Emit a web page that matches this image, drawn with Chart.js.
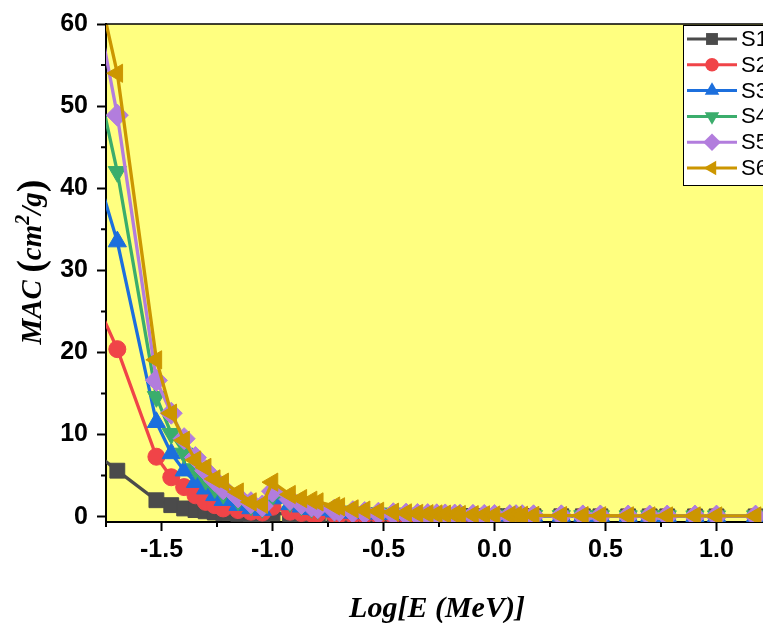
<!DOCTYPE html>
<html>
<head>
<meta charset="utf-8">
<script src="https://cdn.jsdelivr.net/npm/chart.js@4/dist/chart.umd.min.js"></script>
<style>
  html, body { margin: 0; padding: 0; overflow: hidden; background: #fff; }
  #wrap { width: 790px; height: 623px; }
</style>
</head>
<body>
<div id="wrap"><canvas id="macChart" width="790" height="623"></canvas></div>
<script>
// log10 of photon energy (MeV)
const logE = [-1.824, -1.699, -1.523, -1.456, -1.398, -1.347, -1.301, -1.260, -1.222, -1.155,
              -1.097, -1.046, -1.000, -0.921, -0.870, -0.824, -0.796, -0.721, -0.699, -0.638,
              -0.585, -0.523, -0.456, -0.398, -0.347, -0.301, -0.260, -0.222, -0.179, -0.155,
              -0.097, -0.046, 0.000, 0.069, 0.097, 0.125, 0.176, 0.301, 0.398, 0.477,
              0.602, 0.699, 0.778, 0.903, 1.000, 1.176];

// mass attenuation coefficient (cm2/g)
const s1 = [8.3, 5.6, 2.0, 1.4, 1.0, 0.8, 0.65, 0.5, 0.45, 0.35,
            0.3, 0.27, 0.4, 0.3, 0.25, 0.22, 0.2, 0.18, 0.17, 0.15,
            0.14, 0.13, 0.12, 0.11, 0.1, 0.095, 0.09, 0.085, 0.08, 0.077,
            0.075, 0.07, 0.066, 0.062, 0.06, 0.057, 0.055, 0.05, 0.045, 0.042,
            0.04, 0.038, 0.037, 0.035, 0.034, 0.033];
const s2 = [27.9, 20.4, 7.3, 4.8, 3.6, 2.6, 1.8, 1.4, 1.0, 0.8,
            0.6, 0.5, 1.2, 0.6, 0.45, 0.4, 0.36, 0.3, 0.28, 0.25,
            0.22, 0.2, 0.18, 0.16, 0.15, 0.14, 0.13, 0.12, 0.115, 0.11,
            0.1, 0.095, 0.09, 0.085, 0.082, 0.08, 0.075, 0.065, 0.058, 0.052,
            0.047, 0.044, 0.042, 0.04, 0.039, 0.04];
const s3 = [44.8, 33.5, 11.5, 7.7, 5.6, 4.2, 3.4, 2.6, 2.0, 1.4,
            1.0, 0.8, 2.2, 1.5, 1.2, 0.9, 0.8, 0.6, 0.55, 0.45,
            0.4, 0.35, 0.3, 0.26, 0.23, 0.21, 0.19, 0.18, 0.165, 0.16,
            0.145, 0.135, 0.13, 0.12, 0.115, 0.11, 0.1, 0.09, 0.08, 0.075,
            0.07, 0.066, 0.064, 0.062, 0.062, 0.064];
const s4 = [57.4, 42.0, 14.6, 10.1, 7.7, 5.8, 4.5, 3.5, 2.8, 2.0,
            1.4, 1.1, 2.6, 1.8, 1.4, 1.1, 0.95, 0.7, 0.65, 0.52,
            0.45, 0.38, 0.33, 0.28, 0.25, 0.23, 0.21, 0.19, 0.175, 0.17,
            0.155, 0.145, 0.135, 0.125, 0.12, 0.115, 0.105, 0.095, 0.085, 0.078,
            0.072, 0.068, 0.066, 0.064, 0.064, 0.066];
const s5 = [66.6, 48.9, 16.6, 12.6, 9.5, 7.2, 5.6, 4.4, 3.4, 2.4,
            1.7, 1.3, 3.1, 2.1, 1.6, 1.3, 1.1, 0.8, 0.72, 0.6,
            0.5, 0.42, 0.36, 0.31, 0.27, 0.25, 0.23, 0.21, 0.19, 0.18,
            0.165, 0.155, 0.145, 0.13, 0.125, 0.12, 0.11, 0.1, 0.09, 0.082,
            0.075, 0.071, 0.069, 0.067, 0.067, 0.069];
const s6 = [69.1, 54.0, 19.1, 12.6, 9.3, 6.9, 6.0, 4.6, 4.2, 3.0,
            1.8, 1.5, 4.2, 2.7, 2.2, 2.0, 1.8, 1.3, 1.2, 0.95,
            0.8, 0.65, 0.55, 0.46, 0.4, 0.36, 0.33, 0.3, 0.27, 0.26,
            0.24, 0.22, 0.2, 0.18, 0.17, 0.165, 0.15, 0.13, 0.12, 0.11,
            0.1, 0.095, 0.09, 0.088, 0.088, 0.09];

const seriesNames = ['S1', 'S2', 'S3', 'S4', 'S5', 'S6'];
const xTicks = [-1.5, -1.0, -0.5, 0.0, 0.5, 1.0];
const xMinorTicks = [-1.75, -1.25, -0.75, -0.25, 0.25, 0.75, 1.25];
const yTicks = [0, 10, 20, 30, 40, 50, 60];
const yMinorTicks = [5, 15, 25, 35, 45, 55];

// look of each series
const styles = [
  { color: '#4b4b4b', shape: 'rect', radius: 10.5, rot: 0 },
  { color: '#f04448', shape: 'circle', radius: 8.5, rot: 0 },
  { color: '#1c6fdd', shape: 'triangle', radius: 10.5, rot: 0 },
  { color: '#3bad6c', shape: 'triangle', radius: 10.5, rot: 180 },
  { color: '#b27ddd', shape: 'rectRot', radius: 11, rot: 0 },
  { color: '#cc9600', shape: 'triangle', radius: 10.5, rot: -90 }
];

const allSeries = [s1, s2, s3, s4, s5, s6];

const datasets = allSeries.map((vals, i) => ({
  label: seriesNames[i],
  data: logE.map((x, k) => ({ x: x, y: vals[k] })),
  borderColor: styles[i].color,
  backgroundColor: styles[i].color,
  pointBackgroundColor: styles[i].color,
  pointBorderColor: styles[i].color,
  pointBorderWidth: 1,
  pointStyle: styles[i].shape,
  pointRadius: styles[i].radius,
  pointRotation: styles[i].rot,
  borderWidth: 3.3,
  tension: 0,
  clip: 0,
  order: 5 - i
}));

const serif = '"Liberation Serif", "Times New Roman", serif';
const sans = '"Liberation Sans", Arial, sans-serif';

// yellow plot background, frame, minor ticks
const framePlugin = {
  id: 'frame',
  beforeDraw(chart) {
    const { ctx, chartArea: a } = chart;
    ctx.save();
    ctx.fillStyle = '#ffff80';
    ctx.fillRect(a.left, a.top, a.right - a.left, a.bottom - a.top);
    ctx.restore();
  },
  afterDraw(chart) {
    const { ctx, chartArea: a, scales } = chart;
    ctx.save();
    ctx.strokeStyle = '#000';
    ctx.lineWidth = 1.5;
    ctx.beginPath();
    ctx.moveTo(a.left, a.top);
    ctx.lineTo(a.right, a.top);
    ctx.lineTo(a.right, a.bottom);
    ctx.stroke();
    ctx.lineWidth = 2;
    ctx.beginPath();
    xMinorTicks.forEach(v => {
      const px = scales.x.getPixelForValue(v);
      ctx.moveTo(px, a.bottom);
      ctx.lineTo(px, a.bottom + 5);
    });
    yMinorTicks.forEach(v => {
      const py = scales.y.getPixelForValue(v);
      ctx.moveTo(a.left, py);
      ctx.lineTo(a.left - 5, py);
    });
    ctx.stroke();
    ctx.restore();
  }
};

function drawMarker(ctx, st, x, y, r) {
  ctx.save();
  ctx.translate(x, y);
  ctx.rotate(st.rot * Math.PI / 180);
  ctx.fillStyle = st.color;
  ctx.beginPath();
  if (st.shape === 'circle') {
    ctx.arc(0, 0, r, 0, Math.PI * 2);
  } else if (st.shape === 'rect') {
    const h = r * Math.SQRT1_2;
    ctx.rect(-h, -h, 2 * h, 2 * h);
  } else if (st.shape === 'rectRot') {
    ctx.moveTo(0, -r); ctx.lineTo(r, 0); ctx.lineTo(0, r); ctx.lineTo(-r, 0);
  } else {
    for (let k = 0; k < 3; k++) {
      const ang = k * 2 * Math.PI / 3;
      const px = Math.sin(ang) * r, py = -Math.cos(ang) * r;
      if (k === 0) ctx.moveTo(px, py); else ctx.lineTo(px, py);
    }
  }
  ctx.closePath();
  ctx.fill();
  ctx.restore();
}

// legend box with line + marker samples, and axis titles
const extrasPlugin = {
  id: 'extras',
  afterDraw(chart) {
    const { ctx, chartArea: a } = chart;
    ctx.save();
    // legend
    const bx = 683.5, by = 25.5, bw = 100, bh = 160;
    ctx.fillStyle = '#fff';
    ctx.fillRect(bx, by, bw, bh);
    ctx.strokeStyle = '#000';
    ctx.lineWidth = 1;
    ctx.strokeRect(bx, by, bw, bh);
    seriesNames.forEach((name, i) => {
      const y = 39 + i * 25.8;
      ctx.strokeStyle = styles[i].color;
      ctx.lineWidth = 3;
      ctx.beginPath();
      ctx.moveTo(687, y);
      ctx.lineTo(737, y);
      ctx.stroke();
      drawMarker(ctx, styles[i], 712, y, styles[i].radius * 0.8);
      ctx.fillStyle = '#000';
      ctx.font = '22px ' + sans;
      ctx.textBaseline = 'middle';
      ctx.textAlign = 'left';
      ctx.fillText(name, 741, y + 1);
    });

    // x title
    ctx.fillStyle = '#000';
    ctx.font = 'italic bold 30px ' + serif;
    ctx.textAlign = 'center';
    ctx.textBaseline = 'alphabetic';
    ctx.fillText('Log[E (MeV)]', (a.left + a.right) / 2 - 2, 617);

    // y title, rotated
    const parts = [
      { t: 'MAC ', f: 'italic bold 29px ' + serif, dy: 0 },
      { t: '(', f: 'bold 38px ' + serif, dy: 2 },
      { t: 'cm', f: 'italic bold 29px ' + serif, dy: 0 },
      { t: '2', f: 'italic bold 20px ' + serif, dy: -12 },
      { t: '/g', f: 'italic bold 29px ' + serif, dy: 0 },
      { t: ')', f: 'bold 38px ' + serif, dy: 2 }
    ];
    let total = 0;
    parts.forEach(p => { ctx.font = p.f; p.w = ctx.measureText(p.t).width; total += p.w; });
    ctx.translate(41, (a.top + a.bottom) / 2 - 11);
    ctx.rotate(-Math.PI / 2);
    ctx.textAlign = 'left';
    let cx = -total / 2;
    parts.forEach(p => {
      ctx.font = p.f;
      ctx.fillText(p.t, cx, p.dy);
      cx += p.w;
    });
    ctx.restore();
  }
};

new Chart(document.getElementById('macChart'), {
  type: 'line',
  data: { datasets: datasets },
  options: {
    responsive: false,
    animation: false,
    layout: { padding: { top: 24, right: 18, left: 0, bottom: 0 } },
    plugins: { legend: { display: false }, tooltip: { enabled: false } },
    scales: {
      x: {
        type: 'linear',
        min: -1.75,
        max: 1.25,
        afterBuildTicks: s => { s.ticks = xTicks.map(v => ({ value: v })); },
        afterFit: s => { s.height = 101; },
        grid: { drawOnChartArea: false, drawTicks: true, tickLength: 9, tickWidth: 2, tickColor: '#000' },
        border: { display: true, color: '#000', width: 2 },
        ticks: {
          color: '#000',
          padding: 4,
          maxRotation: 0,
          font: { family: sans, size: 25, weight: 'bold' },
          callback: v => Number(v).toFixed(1)
        }
      },
      y: {
        type: 'linear',
        min: -0.65,
        max: 60,
        afterBuildTicks: s => { s.ticks = yTicks.map(v => ({ value: v })); },
        afterFit: s => { s.width = 106; },
        grid: { drawOnChartArea: false, drawTicks: true, tickLength: 9, tickWidth: 2, tickColor: '#000' },
        border: { display: true, color: '#000', width: 2 },
        ticks: {
          color: '#000',
          padding: 9,
          font: { family: sans, size: 25, weight: 'bold' },
          callback: v => String(v)
        }
      }
    }
  },
  plugins: [framePlugin, extrasPlugin]
});
</script>
</body>
</html>
